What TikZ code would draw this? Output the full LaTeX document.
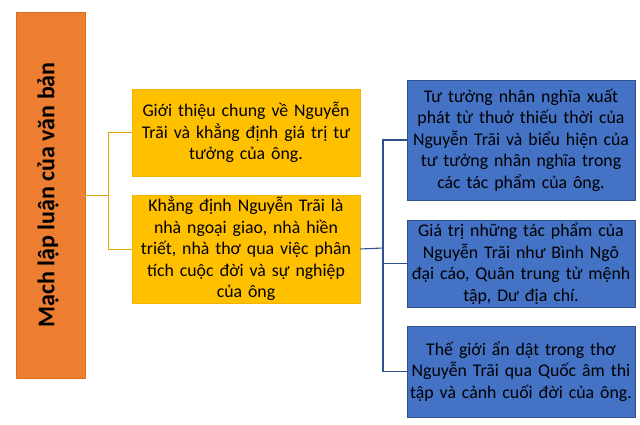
\documentclass[tikz,border=0pt]{standalone}
\usepackage{fontspec}
\setmainfont{Carlito}
\definecolor{orfill}{HTML}{ED7D31}
\definecolor{ordraw}{HTML}{D9701F}
\definecolor{yefill}{HTML}{FFC000}
\definecolor{yedraw}{HTML}{F2B400}
\definecolor{blfill}{HTML}{4472C4}
\definecolor{bldraw}{HTML}{2F528F}
\definecolor{gline}{HTML}{E0A800}
\begin{document}
\begin{tikzpicture}[x=1pt,y=-1pt,
  boxbase/.style={rectangle, inner xsep=0pt, inner ysep=2pt, align=center, text=black,
    font=\fontsize{17.8}{21.5}\selectfont},
  titlebox/.style={boxbase, fill=orfill, draw=ordraw, line width=0.8pt},
  yebox/.style={boxbase, fill=yefill, draw=yedraw, line width=0.8pt, minimum width=228pt, text width=228pt},
  blbox/.style={boxbase, fill=blfill, draw=bldraw, line width=0.8pt, minimum width=228pt, text width=228pt},
  goldline/.style={draw=gline, line width=1pt},
  blueline/.style={draw=bldraw, line width=1.1pt}]
\useasboundingbox (0,0) rectangle (640,425);
\node[titlebox, minimum width=69pt, minimum height=366pt] (title) at (50.5,195) {};
\node[rotate=90, font=\fontsize{24}{28}\selectfont\bfseries, text=black] (titletext) at (48,195) {Mạch lập luận của văn bản};
\node[yebox, minimum height=87pt] (y1) at (246,132.5) {Giới thiệu chung về Nguyễn\\Trãi và khẳng định giá trị tư\\tưởng của ông.};
\node[yebox, minimum height=108pt] (y2) at (246,249) {Khẳng định Nguyễn Trãi là\\nhà ngoại giao, nhà hiền\\triết, nhà thơ qua việc phân\\tích cuộc đời và sự nghiệp\\của ông};
\node[blbox, minimum height=120pt] (b1) at (521,140) {Tư tưởng nhân nghĩa xuất\\phát từ thuở thiếu thời của\\Nguyễn Trãi và biểu hiện của\\tư tưởng nhân nghĩa trong\\các tác phẩm của ông.};
\node[blbox, minimum height=87pt] (b2) at (521,263.5) {Giá trị những tác phẩm của\\Nguyễn Trãi như Bình Ngô\\đại cáo, Quân trung từ mệnh\\tập, Dư địa chí.};
\node[blbox, minimum height=91pt] (b3) at (521,371.5) {Thế giới ẩn dật trong thơ\\Nguyễn Trãi qua Quốc âm thi\\tập và cảnh cuối đời của ông.};
\coordinate (jg) at (108,195);
\coordinate (jb) at (383,248);
\draw[goldline] (title.east |- jg) -- (jg);
\draw[goldline] (y1.west) -- (y1.west -| jg) -- (y2.west -| jg) -- (y2.west);
\draw[blueline] (y2.east) -- (jb);
\draw[blueline] (b1.west) -- (b1.west -| jb) -- (b3.west -| jb) -- (b3.west);
\draw[blueline] (b2.west -| jb) -- (b2.west);
\end{tikzpicture}
\end{document}
